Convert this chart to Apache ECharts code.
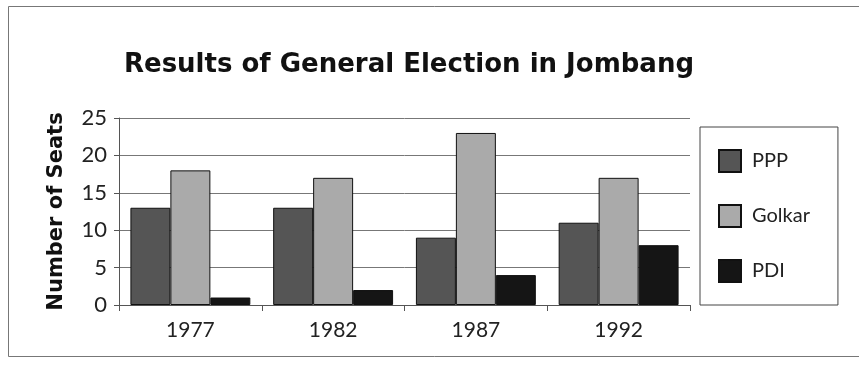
<!DOCTYPE html>
<html>
<head>
<meta charset="utf-8">
<script src="https://cdn.jsdelivr.net/npm/echarts@6/dist/echarts.min.js"></script>
<style>
  html, body { margin: 0; padding: 0; background: #fff; }
  #chart { width: 859px; height: 368px; }
</style>
</head>
<body>
<div id="chart"></div>
<script>
const years = ['1977', '1982', '1987', '1992']
const ppp = [13, 13, 9, 11]
const golkar = [18, 17, 23, 17]
const pdi = [1, 2, 4, 8]

const font = 'Lato, "Open Sans", sans-serif'
const boldFont = '"DejaVu Sans", sans-serif'
const barBorder = { borderColor: '#111', borderWidth: 1 }

const chart = echarts.init(document.getElementById('chart'))
chart.setOption({
  animation: false,
  backgroundColor: '#fff',
  textStyle: { fontFamily: font },
  graphic: [
    {
      type: 'rect',
      shape: { x: 8.5, y: 6.5, width: 870, height: 350 },
      style: { fill: 'none', stroke: '#777', lineWidth: 1 }
    }
  ],
  title: {
    text: 'Results of General Election in Jombang',
    left: 404,
    textAlign: 'center',
    top: 47,
    textStyle: { fontFamily: boldFont, fontSize: 26, fontWeight: 'bold', color: '#111' }
  },
  legend: {
    data: ['PPP', 'Golkar', 'PDI'],
    orient: 'vertical',
    left: 700,
    top: 127,
    icon: 'rect',
    itemWidth: 22,
    itemHeight: 22,
    itemGap: 31,
    padding: [22, 28, 22, 18],
    borderColor: '#444',
    borderWidth: 1,
    textStyle: { fontFamily: font, fontSize: 20, color: '#222', padding: [0, 0, 0, 6] }
  },
  grid: {
    left: 119,
    right: 169,
    top: 118,
    bottom: 63
  },
  xAxis: {
    type: 'category',
    data: years,
    axisLine: { lineStyle: { color: '#555' } },
    axisTick: { show: true, length: 6, lineStyle: { color: '#555' } },
    axisLabel: { fontFamily: font, fontSize: 21, color: '#222', margin: 15 }
  },
  yAxis: {
    type: 'value',
    min: 0,
    max: 25,
    interval: 5,
    name: 'Number of Seats',
    nameLocation: 'middle',
    nameGap: 52,
    nameTextStyle: { fontFamily: boldFont, fontSize: 21, fontWeight: 'bold', color: '#111' },
    axisLine: { show: true, lineStyle: { color: '#555' } },
    axisTick: { show: true, length: 5, lineStyle: { color: '#555' } },
    axisLabel: { fontFamily: font, fontSize: 22, color: '#222', margin: 12 },
    splitLine: { lineStyle: { color: '#777', width: 1 } }
  },
  series: [
    {
      name: 'PPP',
      type: 'bar',
      data: ppp,
      barGap: '0%',
      barCategoryGap: '16%',
      itemStyle: Object.assign({ color: '#555' }, barBorder)
    },
    {
      name: 'Golkar',
      type: 'bar',
      data: golkar,
      itemStyle: Object.assign({ color: '#aaa' }, barBorder)
    },
    {
      name: 'PDI',
      type: 'bar',
      data: pdi,
      itemStyle: Object.assign({ color: '#151515' }, barBorder)
    }
  ]
})
</script>
</body>
</html>
